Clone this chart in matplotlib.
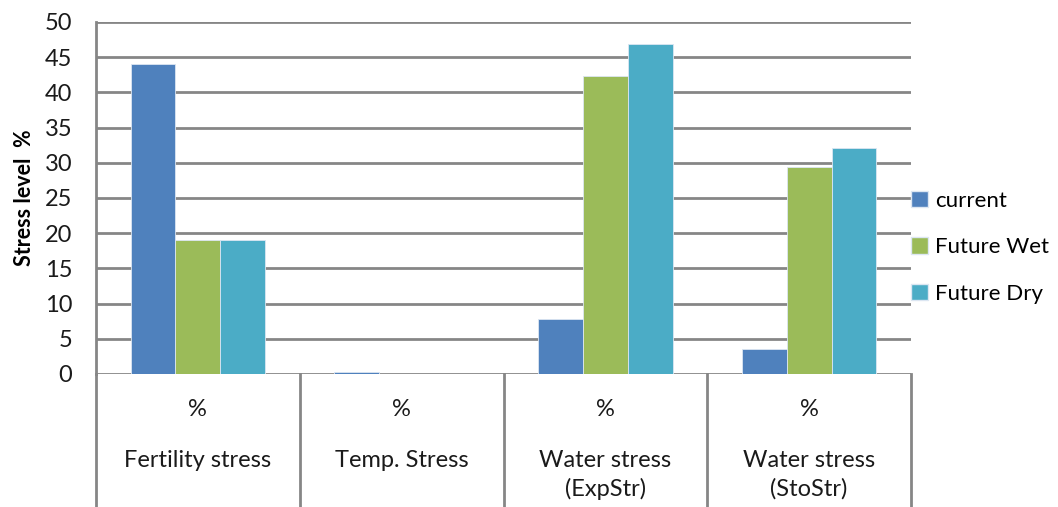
import numpy as np
import matplotlib.pyplot as plt
from matplotlib.transforms import blended_transform_factory
from matplotlib.patches import Patch

categories = ["Fertility stress", "Temp. Stress", "Water stress\n(ExpStr)", "Water stress\n(StoStr)"]
unit_labels = ["%", "%", "%", "%"]
series_names = ["current", "Future Wet", "Future Dry"]
current = [44.0, 0.3, 7.8, 3.5]
future_wet = [19.0, 0.0, 42.3, 29.4]
future_dry = [19.0, 0.0, 46.9, 32.1]
colors = ["#4F81BD", "#9BBB59", "#4BACC6"]
yticks = list(range(0, 55, 5))

plt.rcParams['font.family'] = ['Lato', 'DejaVu Sans']
grid_col = "#868686"
txt_col = "#1a1a1a"

fig = plt.figure(figsize=(10.58, 5.07), dpi=100)
ax = fig.add_axes([96/1058, 133/507, 815/1058, 352/507])

x = np.arange(len(categories))
w = 0.22
for i, vals in enumerate([current, future_wet, future_dry]):
    ax.bar(x + (i - 1) * w, vals, w, color=colors[i], edgecolor="#dce6f2",
           linewidth=0.6, label=series_names[i], zorder=3)

ax.set_xlim(-0.5, len(categories) - 0.5)
ax.set_ylim(0, 50)
ax.set_yticks(yticks)
ax.tick_params(axis='y', length=0, labelsize=17, pad=17, labelcolor=txt_col)
ax.set_xticks([])
ax.yaxis.grid(True, color=grid_col, linewidth=2, zorder=0)
for s in ["top", "right", "bottom"]:
    ax.spines[s].set_visible(False)
ax.spines["left"].set_color(grid_col)
ax.spines["left"].set_linewidth(2)
ax.set_ylabel("Stress level  %", fontsize=15.5, fontweight="bold", labelpad=7)

# category boxes under the axis
tr = blended_transform_factory(ax.transData, ax.transAxes)
for b in np.arange(-0.5, len(categories), 1.0):
    ax.plot([b, b], [0, -0.4], color=grid_col, lw=2, transform=tr, clip_on=False)
for i in range(len(categories)):
    ax.text(i, -0.102, unit_labels[i], transform=tr, ha="center", va="center", fontsize=17, color=txt_col)
    ax.text(i, -0.215, categories[i], transform=tr, ha="center", va="top", fontsize=17,
            linespacing=1.42, color=txt_col)

handles = [Patch(facecolor=c, edgecolor="#dce6f2") for c in colors]
ax.legend(handles, series_names, loc="center left", bbox_to_anchor=(1.0, 0.36),
          frameon=False, fontsize=16, handlelength=0.75, handleheight=0.75,
          handletextpad=0.35, labelspacing=1.2, borderpad=0, borderaxespad=0)

fig.savefig("out.png", dpi=100)
